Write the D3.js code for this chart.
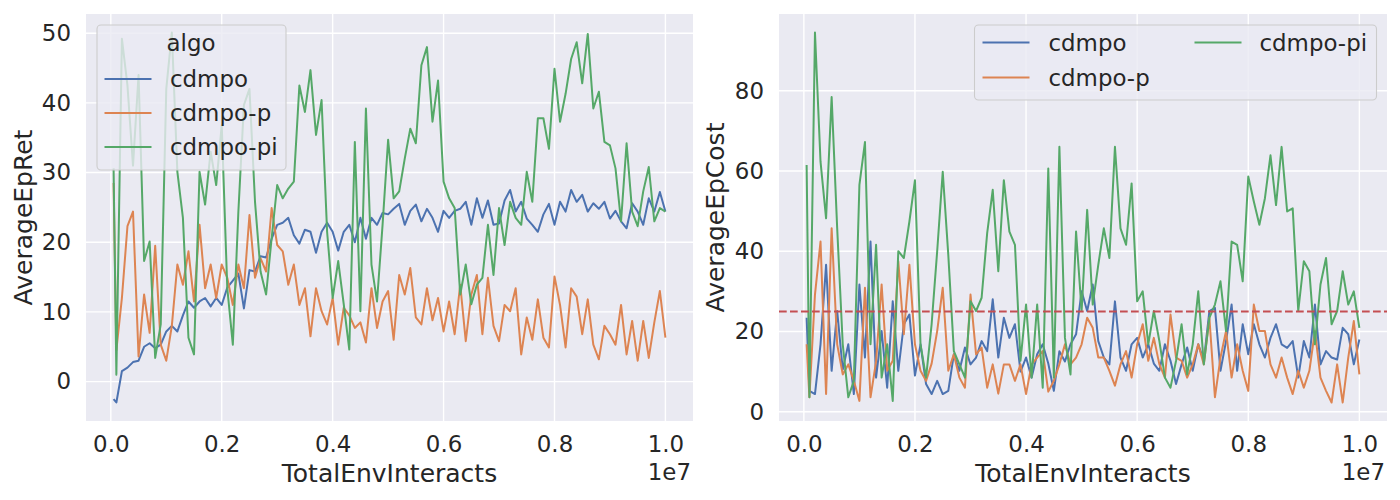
<!DOCTYPE html>
<html>
<head>
<meta charset="utf-8">
<script src="https://cdn.jsdelivr.net/npm/d3@7"></script>
<style>
  body { margin: 0; background: #fff; }
  text { font-family: "DejaVu Sans", sans-serif; fill: #262626; }
</style>
</head>
<body>
<div id="chart"></div>
<script>
// x values: TotalEnvInteracts per logged epoch
const interacts = [5e4, ...d3.range(1e5, 1e7 + 1, 1e5)];
const algos = ["cdmpo", "cdmpo-p", "cdmpo-pi"];
const colors = ["#4c72b0", "#dd8452", "#55a868"];

// AverageEpRet (left panel)
const retCdmpo = [
  -2.5, -3.0, 1.5, 2.0, 2.8, 3.0, 5.0, 5.5, 4.8, 5.3,
  7.2, 8.0, 7.2, 9.5, 11.5, 10.6, 11.5, 12.0, 10.8, 12.0,
  11.0, 13.5, 14.5, 15.5, 10.5, 16.0, 15.8, 18.0, 17.8, 20.5,
  22.5, 22.8, 23.5, 21.0, 19.8, 21.8, 21.5, 18.5, 21.5, 22.8,
  21.5, 18.8, 21.5, 22.5, 20.0, 23.5, 20.5, 23.5, 22.5, 24.2,
  24.0, 24.8, 25.5, 22.5, 24.5, 25.4, 23.0, 24.8, 23.5, 21.5,
  24.5, 23.5, 24.5, 24.8, 25.8, 22.5, 26.3, 23.5, 26.0, 22.5,
  22.7, 26.0, 27.5, 24.4, 25.8, 23.4, 22.5, 21.5, 24.0, 25.5,
  22.5, 25.8, 24.4, 27.5, 25.8, 26.8, 24.4, 25.6, 24.8, 25.8,
  23.4, 24.5, 23.0, 22.0, 25.6, 24.4, 22.5, 26.3, 24.4, 27.2,
  24.4
];
const retCdmpoP = [
  28.5, 4.5, 12.0, 22.3, 24.4, 3.6, 12.5, 7.0, 19.5, 5.3,
  3.0, 8.0, 16.8, 13.9, 18.7, 11.5, 22.5, 13.4, 16.8, 12.0,
  16.8, 14.9, 11.0, 16.8, 13.4, 23.9, 14.9, 17.7, 15.8, 24.9,
  19.6, 18.7, 13.9, 16.8, 11.0, 13.4, 6.5, 13.4, 10.1, 8.2,
  12.0, 5.3, 10.6, 9.5, 7.7, 8.5, 5.6, 13.4, 7.7, 11.5,
  13.0, 6.0, 15.3, 12.5, 16.3, 9.2, 8.2, 13.4, 8.8, 12.0,
  7.2, 11.5, 6.8, 13.9, 5.8, 12.5, 15.3, 6.8, 14.9, 8.0,
  5.8, 11.0, 10.1, 13.4, 3.9, 9.2, 6.0, 11.8, 6.3, 4.9,
  15.1, 11.0, 4.9, 13.4, 12.2, 6.8, 11.8, 5.3, 3.2, 8.0,
  6.8, 5.3, 11.0, 3.9, 8.7, 3.0, 8.7, 3.4, 8.5, 13.0,
  6.3
];
const retCdmpoPi = [
  30.6, 1.0, 49.2, 42.5, 31.0, 44.0, 17.3, 20.1, 3.4, 8.2,
  42.0, 50.1, 30.1, 23.5, 6.3, 3.9, 30.1, 25.4, 33.0, 28.2,
  36.8, 13.4, 5.3, 24.4, 39.7, 42.0, 25.8, 15.8, 12.5, 20.6,
  28.2, 26.3, 27.7, 28.7, 42.5, 38.7, 44.7, 35.4, 40.4, 21.5,
  12.0, 17.3, 11.1, 4.6, 34.4, 10.1, 39.2, 16.8, 11.5, 22.5,
  34.7, 26.3, 27.3, 32.0, 36.3, 34.2, 45.4, 48.0, 37.3, 43.2,
  28.7, 26.3, 24.9, 12.5, 16.8, 11.1, 13.9, 14.9, 22.5, 15.3,
  24.9, 19.6, 25.8, 23.5, 22.5, 30.1, 25.8, 37.8, 37.8, 33.4,
  44.9, 37.3, 41.3, 46.3, 48.7, 42.8, 49.9, 39.2, 41.6, 34.4,
  33.9, 30.6, 23.0, 34.2, 24.4, 22.3, 27.3, 30.8, 23.0, 24.9,
  24.4
];

// AverageEpCost (right panel)
const costCdmpo = [
  23.4, 5.2, 4.4, 16.8, 36.6, 10.2, 25.1, 10.5, 16.8, 4.4,
  31.7, 13.5, 42.4, 8.5, 20.1, 6.0, 27.5, 10.2, 21.8, 24.2,
  9.0, 16.8, 6.9, 4.4, 7.7, 4.4, 5.2, 14.3, 10.2, 16.0,
  11.8, 13.5, 17.6, 15.1, 28.0, 13.5, 23.4, 18.4, 21.8, 10.0,
  13.5, 8.5, 14.3, 16.8, 12.0, 5.2, 15.1, 12.5, 16.8, 19.3,
  30.0, 25.1, 31.7, 17.6, 13.5, 11.8, 27.5, 13.5, 10.2, 16.8,
  18.4, 13.5, 16.8, 12.0, 10.2, 16.8, 12.7, 6.9, 11.8, 16.0,
  10.2, 16.8, 12.7, 25.1, 25.9, 10.2, 17.6, 26.7, 10.2, 21.8,
  14.3, 21.8, 16.8, 13.5, 18.4, 21.8, 16.8, 15.9, 17.6, 8.5,
  17.6, 13.5, 26.7, 11.8, 15.1, 13.5, 13.0, 20.9, 19.3, 11.8,
  18.0
];
const costCdmpoP = [
  16.8, 3.6, 29.2, 42.4, 4.4, 45.7, 16.8, 9.3, 11.8, 7.7,
  2.7, 30.9, 3.6, 12.5, 31.7, 10.2, 12.7, 37.5, 19.3, 36.6,
  16.8, 10.2, 7.7, 12.0, 20.1, 30.9, 10.2, 14.3, 8.5, 6.0,
  29.2, 14.3, 16.0, 6.0, 11.8, 4.5, 11.8, 11.8, 7.7, 11.8,
  4.4, 11.8, 13.5, 15.1, 5.0, 7.7, 11.8, 16.8, 11.8, 13.5,
  16.8, 23.4, 20.9, 13.5, 13.5, 10.2, 6.5, 11.8, 15.1, 8.5,
  16.8, 21.8, 12.7, 18.4, 11.8, 8.5, 24.2, 13.5, 12.7, 8.5,
  11.8, 16.8, 11.8, 23.4, 3.6, 13.5, 20.1, 8.5, 16.8, 10.2,
  5.2, 26.7, 20.1, 20.1, 11.8, 8.5, 13.5, 8.5, 4.4, 10.2,
  6.0, 10.2, 20.1, 8.5, 5.2, 2.3, 11.8, 2.3, 13.5, 22.6,
  9.3
];
const costCdmpoPi = [
  61.5, 3.6, 94.5, 62.3, 48.2, 78.4, 45.7, 16.8, 3.6, 7.7,
  56.5, 67.2, 16.8, 41.6, 8.5, 16.8, 2.7, 40.0, 38.3, 47.4,
  57.7, 16.8, 8.5, 21.8, 40.0, 59.8, 39.1, 15.1, 11.8, 8.5,
  27.5, 25.1, 28.4, 44.5, 55.3, 35.0, 57.7, 44.9, 41.6, 12.7,
  26.7, 8.5, 26.7, 6.0, 60.6, 8.5, 66.0, 18.4, 9.3, 44.9,
  25.1, 50.3, 26.7, 36.6, 45.7, 38.3, 66.0, 45.7, 41.6, 56.9,
  27.5, 30.0, 16.8, 25.1, 17.6, 8.5, 6.0, 12.7, 21.8, 9.3,
  16.8, 30.0, 11.8, 23.4, 26.7, 32.5, 20.1, 42.4, 41.6, 32.5,
  58.6, 52.4, 46.6, 53.2, 63.9, 51.5, 66.0, 49.9, 50.7, 25.1,
  37.5, 35.0, 16.8, 31.7, 38.3, 21.8, 25.1, 35.0, 26.7, 30.0,
  20.9
];
const costLimit = 25;

const xTicks = [0, 2e6, 4e6, 6e6, 8e6, 1e7];
const retTicks = [0, 10, 20, 30, 40, 50];
const costTicks = [0, 20, 40, 60, 80];

const svg = d3.select("#chart").append("svg")
    .attr("width", 1400)
    .attr("height", 500)

const tickSize = 22.9, labelSize = 25;

// matplotlib-like 5% margins around the data
function padded(ext) {
    const m = (ext[1] - ext[0]) * 0.05;
    return [ext[0] - m, ext[1] + m];
}

const panels = [
    { id: "ret", box: [86, 14, 693, 421], series: [retCdmpo, retCdmpoP, retCdmpoPi],
      yTicks: retTicks, yLabel: "AverageEpRet", yLabelX: 32 },
    { id: "cost", box: [779, 14, 1387, 421], series: [costCdmpo, costCdmpoP, costCdmpoPi],
      yTicks: costTicks, yLabel: "AverageEpCost", yLabelX: 724, limit: costLimit }
];

panels.forEach(p => {
    const [x0, y0, x1, y1] = p.box;

    const x = d3.scaleLinear()
        .domain(padded(d3.extent(interacts)))
        .range([x0, x1])
    const allY = p.series.flat();
    const y = d3.scaleLinear()
        .domain(padded(d3.extent(allY)))
        .range([y1, y0])

    // axes background
    svg.append("rect")
        .attr("x", x0).attr("y", y0)
        .attr("width", x1 - x0).attr("height", y1 - y0)
        .attr("fill", "#eaeaf2")

    // grid
    const grid = svg.append("g").attr("stroke", "#fff").attr("stroke-width", 1.4)
    grid.selectAll(".gx").data(xTicks).enter().append("line")
        .attr("x1", d => x(d)).attr("x2", d => x(d))
        .attr("y1", y0).attr("y2", y1)
    grid.selectAll(".gy").data(p.yTicks).enter().append("line")
        .attr("x1", x0).attr("x2", x1)
        .attr("y1", d => y(d)).attr("y2", d => y(d))

    // axes (labels only, seaborn darkgrid has no ticks)
    const xAxis = svg.append("g")
        .attr("transform", `translate(0, ${y1})`)
        .call(d3.axisBottom(x).tickValues(xTicks).tickSize(0).tickPadding(15)
            .tickFormat(d => (d / 1e7).toFixed(1)))
    xAxis.select(".domain").remove()
    xAxis.selectAll("text").attr("font-size", tickSize).attr("font-family", "DejaVu Sans").attr("fill", "#262626")

    const yAxis = svg.append("g")
        .attr("transform", `translate(${x0}, 0)`)
        .call(d3.axisLeft(y).tickValues(p.yTicks).tickSize(0).tickPadding(15))
    yAxis.select(".domain").remove()
    yAxis.selectAll("text").attr("font-size", tickSize).attr("font-family", "DejaVu Sans").attr("fill", "#262626")

    // axis titles
    svg.append("text")
        .attr("x", (x0 + x1) / 2).attr("y", 482)
        .attr("text-anchor", "middle")
        .attr("font-size", labelSize)
        .text("TotalEnvInteracts")
    svg.append("text")
        .attr("transform", `translate(${p.yLabelX}, ${(y0 + y1) / 2}) rotate(-90)`)
        .attr("text-anchor", "middle")
        .attr("font-size", labelSize)
        .text(p.yLabel)
    // offset text of the x axis
    svg.append("text")
        .attr("x", x1 - 2).attr("y", 480)
        .attr("text-anchor", "end")
        .attr("font-size", tickSize)
        .text("1e7")

    // lines
    svg.append("clipPath").attr("id", "clip-" + p.id)
        .append("rect")
        .attr("x", x0).attr("y", y0)
        .attr("width", x1 - x0).attr("height", y1 - y0)
    const plot = svg.append("g").attr("clip-path", `url(#clip-${p.id})`)

    const line = d3.line()
        .x((d, i) => x(interacts[i]))
        .y(d => y(d))

    plot.selectAll(".series")
        .data(p.series)
        .enter().append("path")
        .attr("d", line)
        .attr("fill", "none")
        .attr("stroke", (d, i) => colors[i])
        .attr("stroke-width", 2)
        .attr("stroke-linejoin", "round")

    if (p.limit !== undefined) {
        plot.append("line")
            .attr("x1", x0).attr("x2", x1)
            .attr("y1", y(p.limit)).attr("y2", y(p.limit))
            .attr("stroke", "#c44e52")
            .attr("stroke-width", 2)
            .attr("stroke-dasharray", "7.7,3.3")
    }
});

// legends
function legendBox(x, y, w, h) {
    svg.append("rect")
        .attr("x", x).attr("y", y)
        .attr("width", w).attr("height", h)
        .attr("rx", 4)
        .attr("fill", "#eaeaf2").attr("fill-opacity", 0.8)
        .attr("stroke", "#cccccc").attr("stroke-width", 1.1)
}
function legendEntry(lx, ly, tx, i) {
    svg.append("line")
        .attr("x1", lx).attr("x2", lx + 47)
        .attr("y1", ly).attr("y2", ly)
        .attr("stroke", colors[i]).attr("stroke-width", 2)
    svg.append("text")
        .attr("x", tx).attr("y", ly).attr("dy", "0.35em")
        .attr("font-size", tickSize)
        .text(algos[i])
}

legendBox(97, 25, 189, 145)
svg.append("text")
    .attr("x", 191).attr("y", 43).attr("dy", "0.35em")
    .attr("text-anchor", "middle")
    .attr("font-size", tickSize)
    .text("algo")
algos.forEach((a, i) => legendEntry(104.5, 79 + i * 34, 170, i))

legendBox(974.5, 25, 402, 75)
legendEntry(982.5, 42.5, 1048.5, 0)
legendEntry(982.5, 77.5, 1048.5, 1)
legendEntry(1194.5, 42.5, 1259.5, 2)
</script>
</body>
</html>
